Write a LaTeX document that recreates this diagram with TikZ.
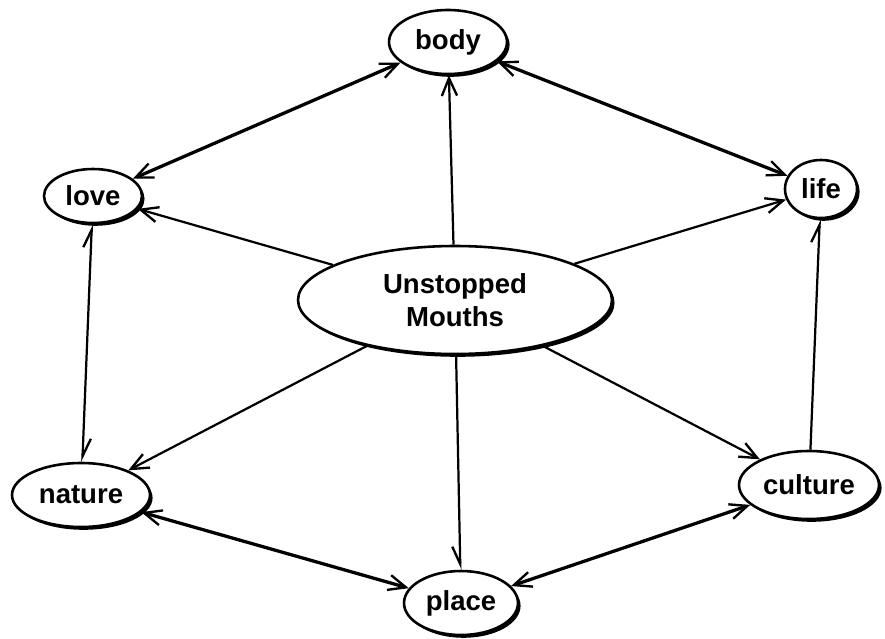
\documentclass[tikz,border=0pt]{standalone}
\usepackage{fontspec}
\setmainfont{Liberation Sans}
\usetikzlibrary{arrows.meta,shadows,shapes.geometric}
\tikzset{
  barb/.tip={Straight Barb[length=15pt,width=13pt,line width=2pt]},
  hbarb/.tip={Straight Barb[harpoon,length=15pt,width=13pt,line width=2pt]},
  hbarbs/.tip={Straight Barb[harpoon,swap,length=15pt,width=13pt,line width=2pt]},
  oval/.style={ellipse, draw, line width=2.2pt, fill=white, inner sep=0pt,
    font=\fontsize{23.5}{28}\selectfont\bfseries, align=center,
    drop shadow={shadow xshift=2.2pt, shadow yshift=-2.4pt, fill=black, opacity=1}},
  thickedge/.style={line width=2.8pt},
  thinedge/.style={line width=1.9pt}
}
\begin{document}
\begin{tikzpicture}[x=0.03cm,y=-0.03cm]
\useasboundingbox (0,0) rectangle (885,639);
\node[oval, minimum width=118*0.03cm, minimum height=64*0.03cm] (body) at (448,42) {body};
\node[oval, minimum width=98*0.03cm, minimum height=54*0.03cm] (love) at (93,196) {love};
\node[oval, minimum width=72*0.03cm, minimum height=58*0.03cm] (life) at (821,189) {life};
\node[oval, minimum width=314*0.03cm, minimum height=108*0.03cm] (mouths) at (455,300) {Unstopped\\Mouths};
\node[oval, minimum width=138*0.03cm, minimum height=64*0.03cm] (nature) at (81,495) {nature};
\node[oval, minimum width=140*0.03cm, minimum height=68*0.03cm] (culture) at (809,485) {culture};
\node[oval, minimum width=114*0.03cm, minimum height=64*0.03cm] (place) at (461,603) {place};

\draw[thickedge, barb-barb] (love) -- (body);
\draw[thickedge, barb-barb] (body) -- (life);
\draw[thickedge, barb-barb] (nature) -- (place);
\draw[thickedge, barb-barb] (place) -- (culture);

\draw[thinedge, -barb] (mouths) -- (body);
\draw[thinedge, -barb] (mouths) -- (love);
\draw[thinedge, -barb] (mouths) -- (life);
\draw[thinedge, -barb] (mouths) -- (nature);
\draw[thinedge, -barb] (mouths) -- (culture);
\draw[thinedge, -hbarbs] (mouths) -- (place);
\draw[thinedge, hbarb-hbarb] (love) -- (nature);
\draw[thinedge, -hbarb] (culture) -- (life);
\end{tikzpicture}
\end{document}
